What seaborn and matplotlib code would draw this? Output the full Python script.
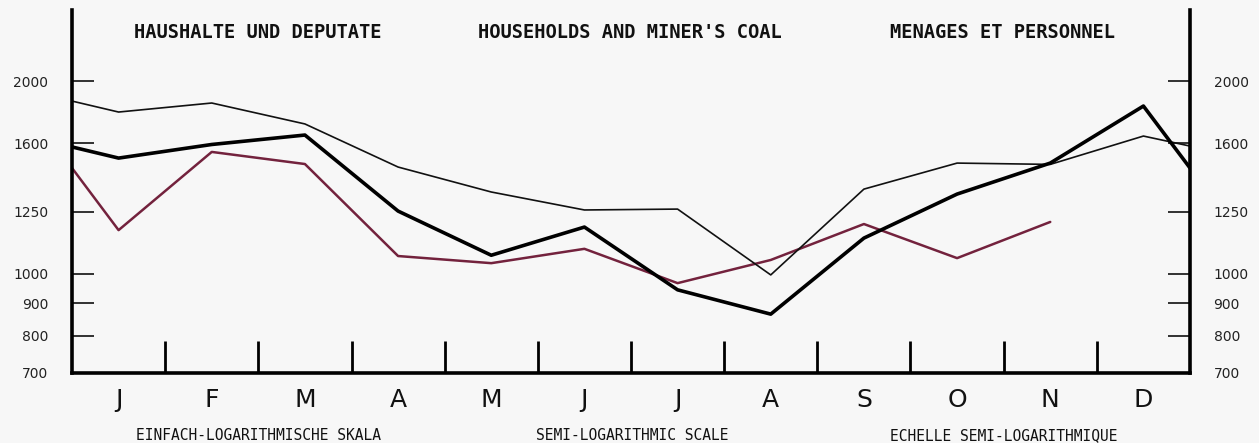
import matplotlib
matplotlib.use("Agg")
import matplotlib.pyplot as plt
import seaborn as sns
import pandas as pd
from matplotlib.ticker import FixedLocator, NullLocator

# ---------------- data ----------------
months = ["J", "F", "M", "A", "M", "J", "J", "A", "S", "O", "N", "D"]
# points: start of year (axis), mid of each month, end of year (axis)
point_x = [0.0] + [i + 0.5 for i in range(12)] + [12.0]

thin_series = [1861, 1789, 1848, 1714, 1468, 1342, 1258, 1262, 996, 1356, 1489, 1482, 1641, 1583]
thick_series = [1578, 1516, 1592, 1647, 1253, 1069, 1183, 944, 865, 1137, 1332, 1489, 1828, 1463]
red_series = [1463, 1170, 1550, 1484, 1066, 1039, 1094, 967, 1051, 1196, 1058, 1205]

ytick_values = [700, 800, 900, 1000, 1250, 1600, 2000]
ytick_labels = ["700", "800", "900", "1000", "1250", "1600", "2000"]

titles = ["HAUSHALTE UND DEPUTATE", "HOUSEHOLDS AND MINER'S COAL", "MENAGES ET PERSONNEL"]
captions = ["EINFACH-LOGARITHMISCHE SKALA", "SEMI-LOGARITHMIC SCALE", "ECHELLE SEMI-LOGARITHMIQUE"]

# ---------------- frame ----------------
df = pd.concat([
    pd.DataFrame({"x": point_x, "v": thin_series, "s": "thin"}),
    pd.DataFrame({"x": point_x, "v": thick_series, "s": "thick"}),
    pd.DataFrame({"x": point_x[:len(red_series)], "v": red_series, "s": "red"}),
])

sns.set_theme(style="white")
plt.rcParams["font.family"] = ["DejaVu Sans"]

W, H = 1259, 443
fig = plt.figure(figsize=(W / 100, H / 100), dpi=100, facecolor="#f7f7f7")
ax = fig.add_axes([72 / W, 70 / H, (1190 - 72) / W, (373 - 10) / H])
ax.set_facecolor("none")

styles = {"thin": ("#111111", 1.2), "thick": ("#000000", 2.6), "red": ("#73223d", 1.8)}
for name in ["red", "thin", "thick"]:
    color, lw = styles[name]
    sns.lineplot(data=df[df["s"] == name], x="x", y="v", ax=ax, color=color,
                 linewidth=lw, sort=False, estimator=None, legend=False)

ax.set_yscale("log")
ax.set_ylim(700, 2582)
ax.set_xlim(0, 12)
ax.yaxis.set_major_locator(FixedLocator(ytick_values))
ax.set_yticklabels(ytick_labels)
ax.yaxis.set_minor_locator(NullLocator())

ax.set_xticks([i + 0.5 for i in range(12)])
ax.set_xticklabels(months)
ax.set_xticks(list(range(1, 12)), minor=True)

ax.tick_params(axis="y", which="both", left=True, right=True, labelleft=True,
               labelright=True, direction="in", length=16, width=1.3, pad=17,
               labelsize=10, colors="#222222")
ax.tick_params(axis="x", which="major", length=0, pad=11, labelsize=18,
               labelcolor="#111111")
ax.tick_params(axis="x", which="minor", bottom=True, direction="in", length=23,
               width=2, color="#000000")

ax.set_xlabel("")
ax.set_ylabel("")
ax.spines["top"].set_visible(False)
for sp in ["left", "right", "bottom"]:
    ax.spines[sp].set_visible(True)
    ax.spines[sp].set_linewidth(2.6)
    ax.spines[sp].set_color("#000000")
ax.grid(False)

title_x = [258, 630, 1003]
for t, xp in zip(titles, title_x):
    fig.text(xp / W, 1 - 33 / H, t, ha="center", va="center",
             family="DejaVu Sans Mono", fontsize=13.5, fontweight="bold",
             color="#111111")

cap_x = [258, 632, 1004]
for t, xp in zip(captions, cap_x):
    fig.text(xp / W, 1 - 436 / H, t, ha="center", va="center",
             family="DejaVu Sans Mono", fontsize=10.5, color="#111111")

fig.savefig("out.png", dpi=100, facecolor=fig.get_facecolor())
